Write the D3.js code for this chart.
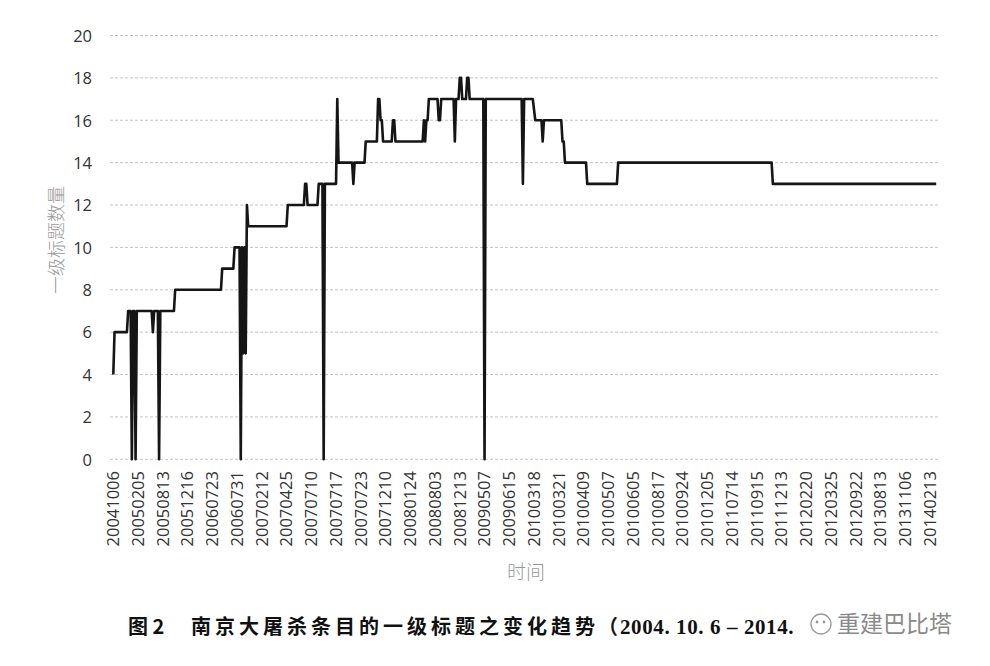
<!DOCTYPE html>
<html>
<head>
<meta charset="utf-8">
<script src="https://cdn.jsdelivr.net/npm/d3@7"></script>
<style>
  html, body { margin: 0; padding: 0; background: #fff; }
  svg { display: block; }
</style>
</head>
<body>
<svg id="chart" width="990" height="666"></svg>
<script>
// ---- Data ----
const tickLabels = [
  "20041006","20050205","20050813","20051216","20060723","20060731","20070212","20070425",
  "20070710","20070717","20070723","20071210","20080124","20080803","20081213","20090507",
  "20090615","20100318","20100321","20100409","20100507","20100605","20100817","20100924",
  "20101205","20110714","20110915","20111213","20120220","20120325","20120922","20130813",
  "20131106","20140213"
];
const revisionsPerLabel = 20;   // one date label every 20 revisions
const lastRevision = 665;

// revision index (vertices of the series) and number of first-level headings
const revIndex = [
  0,1,11,12,14,15,16,17,18,19,31,32,33,36,37,38,49,50,87,88,97,98,
  102,103,104,105,106,107,108,109,140,141,154,155,156,157,165,166,169,170,171,
  180,181,182,193,194,195,203,204,213,214,215,216,217,218,225,226,227,228,
  250,251,252,253,254,255,262,263,264,265,275,276,277,279,280,281,282,285,286,287,288,
  299,300,301,330,331,332,339,341,346,347,348,362,363,364,365,382,383,407,408,532,533,665
];
const titleCount = [
  4,6,6,7,7,0,7,7,0,7,7,6,7,7,0,7,7,8,8,9,9,10,
  10,0,10,5,10,5,12,11,11,12,12,13,13,12,12,13,13,0,13,
  13,17,14,14,13,14,14,15,15,17,17,16,16,15,15,16,16,15,
  15,16,15,16,16,17,17,16,16,17,17,15,17,17,18,18,17,17,18,18,17,
  17,0,17,17,13,17,17,16,16,15,16,16,15,15,14,14,13,13,14,14,13,13
];
const yTicks = [0,2,4,6,8,10,12,14,16,18,20];

const yTitle = "一级标题数量";
const xTitle = "时间";
const captionNo = "图 2";
const captionText = "南京大屠杀条目的一级标题之变化趋势";
const captionParen = "（";
const captionRange = "2004. 10. 6 – 2014.";
const watermark = "重建巴比塔";

// ---- Layout ----
const svg = d3.select("#chart");
const gridLeft = 110, gridRight = 938;

const x = d3.scaleLinear().domain([0, lastRevision]).range([113.3, 936.2]);
const y = d3.scaleLinear().domain([0, 20]).range([459.3, 35.5]);

const numFont = "'Open Sans', 'Liberation Sans', sans-serif";
const cjkFont = "'Noto Sans CJK SC', sans-serif";

// gridlines
svg.append("g").selectAll("line").data(yTicks).join("line")
  .attr("x1", gridLeft).attr("x2", gridRight)
  .attr("y1", d => y(d)).attr("y2", d => y(d))
  .attr("stroke", "#c4c4c4").attr("stroke-width", 1)
  .attr("stroke-dasharray", "3,2");

// y tick labels
const yAxis = d3.axisLeft(y).tickValues(yTicks).tickSize(0).tickPadding(0);
const gy = svg.append("g").attr("transform", "translate(92,0)").call(yAxis);
gy.select(".domain").remove();
gy.selectAll("text")
  .attr("font-family", numFont).attr("font-size", 16.5)
  .attr("fill", "#333").attr("dy", "0.35em");

// x tick labels (every revisionsPerLabel-th revision)
const labelData = tickLabels.map((t, i) => ({t, r: i * revisionsPerLabel}));
svg.append("g").selectAll("text").data(labelData).join("text")
  .attr("transform", d => `translate(${x(d.r)},471) rotate(-90)`)
  .attr("text-anchor", "end")
  .attr("dy", "0.36em")
  .attr("font-family", numFont).attr("font-size", 16.5)
  .attr("fill", "#333")
  .text(d => d.t);

// series line
const pts = revIndex.map((r, i) => [r, titleCount[i]]);
const line = d3.line().x(d => x(d[0])).y(d => y(d[1]));
svg.append("path")
  .attr("d", line(pts))
  .attr("fill", "none")
  .attr("stroke", "#151515")
  .attr("stroke-width", 2.6)
  .attr("stroke-linejoin", "round");

// axis titles
svg.append("text")
  .attr("transform", "translate(57,240) rotate(-90)")
  .attr("text-anchor", "middle").attr("dy", "0.35em")
  .attr("font-family", cjkFont).attr("font-size", 18).attr("font-weight", 300)
  .attr("fill", "#999")
  .text(yTitle);

svg.append("text")
  .attr("x", 526).attr("y", 572)
  .attr("text-anchor", "middle").attr("dy", "0.35em")
  .attr("font-family", cjkFont).attr("font-size", 19).attr("font-weight", 300)
  .attr("fill", "#999")
  .text(xTitle);

// caption
const cap = svg.append("g").attr("font-family", cjkFont).attr("font-weight", 700).attr("fill", "#111");
cap.append("text").attr("x", 128).attr("y", 634).attr("font-size", 20).text(captionNo);
cap.append("text").attr("x", 191).attr("y", 634).attr("font-size", 20)
  .attr("letter-spacing", 4).text(captionText);
cap.append("text").attr("x", 598).attr("y", 634).attr("font-size", 20).text(captionParen);
cap.append("text").attr("x", 620).attr("y", 634).attr("font-size", 21)
  .attr("letter-spacing", 0.6)
  .attr("font-family", "'Liberation Serif', serif").text(captionRange);

// watermark
const wm = svg.append("g");
wm.append("circle").attr("cx", 821).attr("cy", 624).attr("r", 10)
  .attr("fill", "rgba(255,255,255,0.7)").attr("stroke", "#9a9a9a").attr("stroke-width", 1.3);
wm.append("circle").attr("cx", 817).attr("cy", 622).attr("r", 1.4).attr("fill", "#9a9a9a");
wm.append("circle").attr("cx", 824).attr("cy", 622).attr("r", 1.4).attr("fill", "#9a9a9a");
wm.append("text").attr("x", 837).attr("y", 632)
  .attr("font-family", cjkFont).attr("font-size", 23).attr("font-weight", 400)
  .attr("fill", "#8a8a8a").attr("stroke", "#fff").attr("stroke-width", 0.6)
  .attr("paint-order", "stroke")
  .text(watermark);
</script>
</body>
</html>
